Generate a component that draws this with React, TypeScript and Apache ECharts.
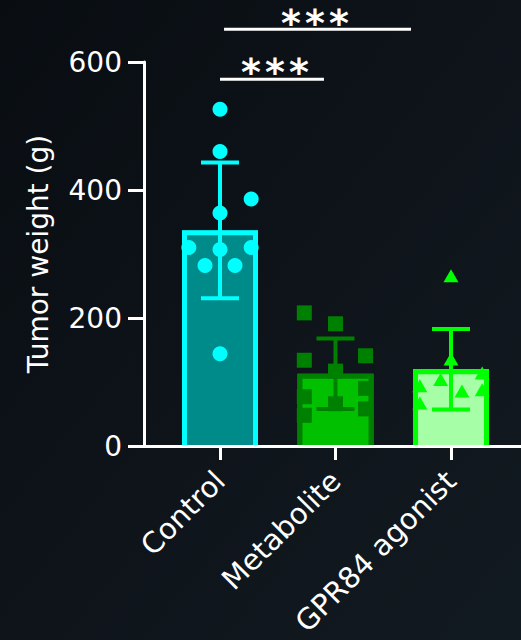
import React, { useEffect, useRef } from "react";
import * as echarts from "echarts";

const categories = ["Control", "Metabolite", "GPR84 agonist"];
const means = [337, 113, 120];
const sds = [106, 55, 63];
// [horizontal jitter (category units), value]
const controlPoints = [[0, 526], [0, 460], [0.27, 386], [0, 364], [-0.27, 310], [0, 307], [0.27, 310], [-0.13, 282], [0.13, 282], [0, 144]];
const metabolitePoints = [[-0.27, 208], [0, 191], [-0.27, 134], [0.26, 141], [0, 117], [-0.27, 77], [-0.27, 48], [0.26, 90], [0.26, 58], [0, 66]];
const agonistPoints = [[0, 266], [0, 136], [-0.09, 104], [0.27, 114], [0.27, 88], [0.095, 86], [-0.27, 94], [-0.27, 67]];
const yTicks = [0, 200, 400, 600];
// significance brackets: [from, to, lineValue, labelCenterX, labelValue]
const sigBrackets = [
  [0.0, 0.9, 573, 0.476, 592],
  [0.035, 1.654, 651, 0.823, 669],
];
const sigLabels = ["***", "***"];

const fills = ["#008B8B", "#00C000", "#A6FFA6"];
const strokes = ["#00FFFF", "#008000", "#00FF00"];
const FONT = "DejaVu Sans";
const BAR_W = 76;
const BORDER = 5;

export default function App() {
  const ref = useRef<HTMLDivElement>(null);
  useEffect(() => {
    if (!ref.current) return;
    const chart = echarts.init(ref.current, undefined, { renderer: "svg" });
    const pointSeries = [controlPoints, metabolitePoints, agonistPoints].map((pts, i) => ({
      type: "scatter",
      xAxisIndex: 2,
      yAxisIndex: 1,
      z: 4,
      symbol: ["circle", "rect", "triangle"][i],
      symbolSize: [15, 15, [15, 13]][i],
      itemStyle: { color: strokes[i], opacity: 1 },
      data: pts.map(([dx, v]) => [i + dx, v]),
    }));
    chart.setOption({
      animation: false,
      backgroundColor: {
        type: "linear", x: 0, y: 0, x2: 1, y2: 1,
        colorStops: [{ offset: 0, color: "#090d12" }, { offset: 1, color: "#121a21" }],
      },
      grid: [
        { left: 144, top: 62, width: 377, height: 384 },
        { left: 162.25, top: 62, width: 346.5, height: 384 },
      ],
      xAxis: [
        {
          gridIndex: 0, type: "value", min: 0, max: 1, z: 10,
          axisLine: { show: true, lineStyle: { color: "#ffffff", width: 3 } },
          axisTick: { show: false }, axisLabel: { show: false }, splitLine: { show: false },
        },
        {
          gridIndex: 1, type: "category", data: categories,
          axisLine: { show: false },
          axisTick: { show: true, alignWithLabel: true, length: 14, lineStyle: { color: "#ffffff", width: 3 } },
          axisLabel: { rotate: 45, margin: 30, color: "#ffffff", fontSize: 29, fontFamily: FONT },
          splitLine: { show: false },
        },
        { gridIndex: 1, type: "value", min: -0.5, max: 2.5, show: false },
      ],
      yAxis: [
        {
          gridIndex: 0, type: "value", min: yTicks[0], max: yTicks[yTicks.length - 1], interval: 200, z: 10,
          name: "Tumor weight (g)", nameLocation: "middle", nameGap: 92,
          nameTextStyle: { color: "#ffffff", fontSize: 28, fontFamily: FONT },
          axisLine: { show: true, lineStyle: { color: "#ffffff", width: 3 } },
          axisTick: { show: true, length: 16, lineStyle: { color: "#ffffff", width: 3 } },
          axisLabel: { color: "#ffffff", fontSize: 28, fontFamily: FONT, margin: 22 },
          splitLine: { show: false },
        },
        { gridIndex: 1, type: "value", min: 0, max: 600, show: false },
      ],
      series: [
        {
          type: "bar", xAxisIndex: 1, yAxisIndex: 1, z: 2, barWidth: BAR_W,
          data: means.map((m, i) => ({ value: m, itemStyle: { color: fills[i] } })),
        },
        {
          // open-bottom outline of each bar
          type: "custom", xAxisIndex: 2, yAxisIndex: 1, z: 3,
          data: means.map((m, i) => [i, m]),
          renderItem: (params: any, api: any) => {
            const top = api.coord([api.value(0), api.value(1)]);
            const base = api.coord([api.value(0), 0]);
            const h = BAR_W / 2 - BORDER / 2;
            const t = top[1] + BORDER / 2;
            return {
              type: "polyline",
              shape: { points: [[top[0] - h, base[1]], [top[0] - h, t], [top[0] + h, t], [top[0] + h, base[1]]] },
              style: { stroke: strokes[params.dataIndex], lineWidth: BORDER, fill: null, lineJoin: "miter" },
            };
          },
        },
        {
          type: "custom", xAxisIndex: 2, yAxisIndex: 1, z: 3,
          data: means.map((m, i) => [i, m, sds[i]]),
          renderItem: (params: any, api: any) => {
            const x = api.value(0), m = api.value(1), s = api.value(2);
            const top = api.coord([x, m + s]);
            const bot = api.coord([x, m - s]);
            const c = strokes[params.dataIndex];
            const st = { stroke: c, lineWidth: 4 };
            const hw = 19;
            return {
              type: "group",
              children: [
                { type: "line", shape: { x1: top[0], y1: top[1], x2: bot[0], y2: bot[1] }, style: st },
                { type: "line", shape: { x1: top[0] - hw, y1: top[1], x2: top[0] + hw, y2: top[1] }, style: st },
                { type: "line", shape: { x1: bot[0] - hw, y1: bot[1], x2: bot[0] + hw, y2: bot[1] }, style: st },
              ],
            };
          },
        },
        ...pointSeries,
        {
          type: "custom", xAxisIndex: 2, yAxisIndex: 1, z: 5, clip: false,
          data: sigBrackets,
          renderItem: (params: any, api: any) => {
            const p1 = api.coord([api.value(0), api.value(2)]);
            const p2 = api.coord([api.value(1), api.value(2)]);
            const lc = api.coord([api.value(3), api.value(4)]);
            const label = sigLabels[params.dataIndex];
            const stars = label.split("").map((ch: string, k: number) => ({
              type: "text",
              x: lc[0] + (k - (label.length - 1) / 2) * 24,
              y: lc[1] + 5,
              style: {
                text: ch, fill: "#ffffff", align: "center", verticalAlign: "middle",
                font: `bold 38px '${FONT}'`,
              },
            }));
            return {
              type: "group",
              children: [
                { type: "line", shape: { x1: p1[0], y1: p1[1], x2: p2[0], y2: p2[1] }, style: { stroke: "#ffffff", lineWidth: 3 } },
                ...stars,
              ],
            };
          },
        },
      ],
    });
    return () => chart.dispose();
  }, []);
  return (
    <div
      ref={ref}
      style={{ position: "absolute", left: 0, top: 0, width: 521, height: 640 }}
    />
  );
}
